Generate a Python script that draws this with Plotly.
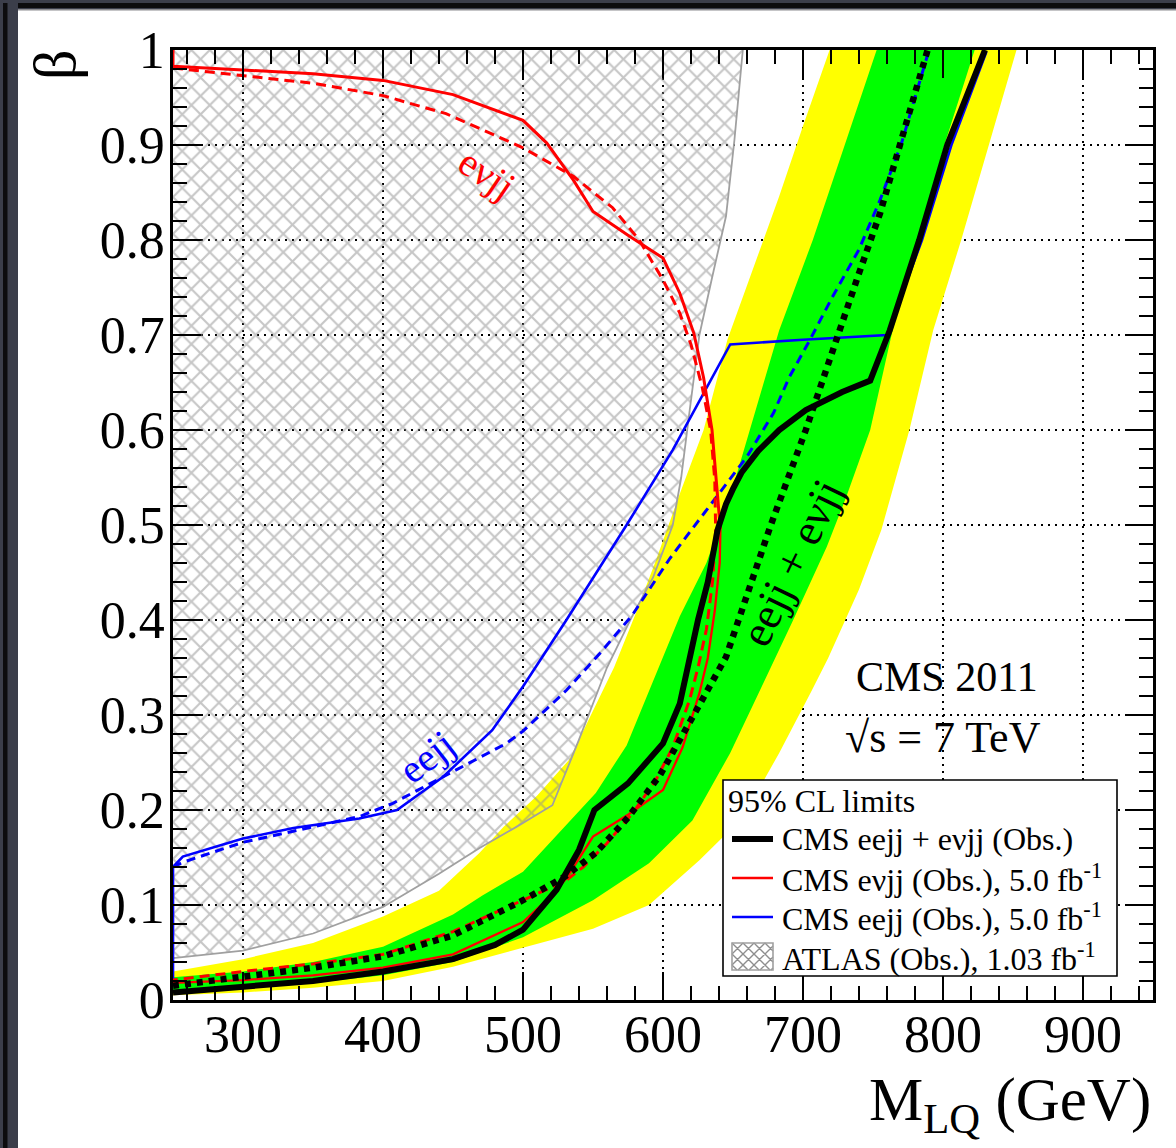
import plotly.graph_objects as go

# ---------------- data: 95% CL limits in the (M_LQ, beta) plane ----------------
# CMS eejj + evjj combined, observed
comb_obs_m = [250, 300, 350, 400, 450, 480, 500, 524, 540, 551, 575, 600, 612, 625, 632,
              639, 645, 650, 656, 668, 683, 702, 728, 748, 762, 783, 803, 830]
comb_obs_b = [0.008, 0.014, 0.020, 0.030, 0.043, 0.058, 0.074, 0.116, 0.158, 0.200, 0.228,
              0.270, 0.312, 0.400, 0.440, 0.495, 0.522, 0.538, 0.555, 0.578, 0.600, 0.621,
              0.640, 0.652, 0.705, 0.800, 0.900, 1.000]

# CMS eejj + evjj combined, expected
comb_exp_m = [250, 300, 350, 400, 450, 500, 530, 552, 575, 598, 615, 628, 645, 660, 677,
              702, 724, 740, 755, 769, 789]
comb_exp_b = [0.015, 0.024, 0.034, 0.046, 0.068, 0.105, 0.130, 0.155, 0.192, 0.237, 0.280,
              0.316, 0.361, 0.425, 0.500, 0.600, 0.698, 0.765, 0.828, 0.898, 1.000]

# expected +-1 sigma band edges (left edge, right edge)
band1_left_m = [250, 300, 350, 400, 450, 471, 500, 519, 552, 574, 590, 612, 631, 648, 662,
                683, 707, 731, 752.6]
band1_left_b = [0.024, 0.030, 0.040, 0.056, 0.090, 0.110, 0.135, 0.165, 0.218, 0.268, 0.325,
                0.404, 0.460, 0.530, 0.600, 0.705, 0.800, 0.905, 1.000]
band1_right_m = [250, 300, 350, 400, 450, 500, 550, 590, 621, 648, 667, 693, 717, 731, 748,
                 764, 782, 801, 822.6]
band1_right_b = [0.010, 0.014, 0.018, 0.026, 0.040, 0.066, 0.105, 0.144, 0.189, 0.260, 0.319,
                 0.400, 0.477, 0.530, 0.600, 0.705, 0.800, 0.900, 1.000]

# expected +-2 sigma band edges (left edge, right edge)
band2_left_m = [250, 300, 350, 400, 440, 469, 486, 510, 533, 548, 565, 580, 595, 612, 629,
                646, 667, 683, 700, 719]
band2_left_b = [0.030, 0.043, 0.060, 0.088, 0.115, 0.155, 0.182, 0.215, 0.253, 0.298, 0.350,
                0.405, 0.463, 0.533, 0.600, 0.695, 0.782, 0.846, 0.920, 1.000]
band2_right_m = [250, 300, 350, 400, 450, 500, 550, 590, 626, 657, 683, 706, 718, 740, 756,
                 776, 793, 813, 833, 852.5]
band2_right_b = [0.005, 0.008, 0.013, 0.020, 0.035, 0.055, 0.075, 0.100, 0.147, 0.192, 0.260,
                 0.325, 0.360, 0.432, 0.495, 0.600, 0.705, 0.800, 0.900, 1.000]

# CMS evjj, observed and expected
enujj_obs_m = [250, 250, 300, 350, 400, 450, 500, 517, 536, 550, 575, 600, 612, 622, 629,
               635, 639, 641, 640.5, 637, 632, 626, 614, 600, 575, 550, 531, 519, 500, 450,
               400, 350, 300, 250]
enujj_obs_b = [1.000, 0.983, 0.979, 0.975, 0.968, 0.953, 0.926, 0.902, 0.863, 0.830, 0.805,
               0.781, 0.744, 0.702, 0.655, 0.600, 0.530, 0.495, 0.460, 0.410, 0.360, 0.323,
               0.266, 0.221, 0.195, 0.172, 0.128, 0.108, 0.082, 0.048, 0.034, 0.026, 0.021,
               0.018]
enujj_exp_m = [250, 300, 350, 400, 445, 500, 536, 564, 583, 600, 612, 620, 628, 634, 637,
               637.6, 635.5, 631, 625, 619, 607, 595, 580, 560, 543, 530, 500, 450, 400, 350,
               300, 250]
enujj_exp_b = [0.981, 0.973, 0.965, 0.952, 0.933, 0.897, 0.867, 0.834, 0.800, 0.758, 0.723,
               0.690, 0.645, 0.600, 0.547, 0.495, 0.442, 0.390, 0.350, 0.316, 0.266, 0.232,
               0.200, 0.165, 0.140, 0.125, 0.105, 0.072, 0.048, 0.038, 0.030, 0.021]

# CMS eejj, observed and expected
eejj_obs_m = [250, 250, 257, 300, 336, 383, 410, 443, 478, 500, 531, 557, 574, 607, 648,
              700, 760, 785, 806, 831]
eejj_obs_b = [0.020, 0.140, 0.151, 0.170, 0.181, 0.191, 0.200, 0.235, 0.284, 0.330, 0.400,
              0.461, 0.500, 0.579, 0.690, 0.695, 0.700, 0.800, 0.900, 0.998]
eejj_exp_m = [250, 257, 300, 336, 383, 407, 443, 488, 500, 531, 555, 578, 605, 635, 660,
              679, 690, 705, 721, 740, 755, 770, 790]
eejj_exp_b = [0.140, 0.145, 0.166, 0.178, 0.193, 0.207, 0.235, 0.270, 0.283, 0.326, 0.365,
              0.405, 0.465, 0.523, 0.572, 0.618, 0.655, 0.695, 0.740, 0.790, 0.842, 0.900,
              1.000]

# ATLAS observed exclusion boundary (excluded region lies to the left / above)
atlas_m = [250, 300, 350, 400, 440, 469, 495, 521, 540, 560, 578, 593, 607, 613, 619, 626,
           635, 645, 651, 657]
atlas_b = [0.044, 0.052, 0.070, 0.098, 0.133, 0.160, 0.182, 0.205, 0.274, 0.350, 0.404,
           0.445, 0.500, 0.550, 0.620, 0.700, 0.760, 0.825, 0.905, 1.000]

x_ticks = [300, 400, 500, 600, 700, 800, 900]
y_ticks = [0, 0.1, 0.2, 0.3, 0.4, 0.5, 0.6, 0.7, 0.8, 0.9, 1]
y_tick_text = ["0", "0.1", "0.2", "0.3", "0.4", "0.5", "0.6", "0.7", "0.8", "0.9", "1"]

legend_header = "95% CL limits"
legend_labels = ["CMS eejj + e\u03bdjj (Obs.)",
                 "CMS e\u03bdjj (Obs.), 5.0 fb<sup>-1</sup>",
                 "CMS eejj (Obs.), 5.0 fb<sup>-1</sup>",
                 "ATLAS (Obs.), 1.03 fb<sup>-1</sup>"]

# ---------------- page geometry ----------------
W, H = 1176, 1148
ML, MR, MT, MB = 173, 23, 50, 148
PW = W - ML - MR
PH = H - MT - MB
FONT = "Liberation Serif"


def pxx(p):
    """page pixel column -> paper x"""
    return (p - ML) / PW


def pxy(p):
    """page pixel row -> paper y"""
    return (H - MB - p) / PH


YELLOW = "#ffff00"
GREEN = "#00ff00"
HATCH = "#8e8e8e"

fig = go.Figure()

# +-2 sigma band
fig.add_trace(go.Scatter(
    x=band2_left_m + band2_right_m[::-1], y=band2_left_b + band2_right_b[::-1],
    fill="toself", fillcolor=YELLOW, line=dict(width=0), mode="lines",
    hoverinfo="skip", showlegend=False))
# +-1 sigma band
fig.add_trace(go.Scatter(
    x=band1_left_m + band1_right_m[::-1], y=band1_left_b + band1_right_b[::-1],
    fill="toself", fillcolor=GREEN, line=dict(width=0), mode="lines",
    hoverinfo="skip", showlegend=False))

# ATLAS excluded region (cross-hatched)
fig.add_trace(go.Scatter(
    x=atlas_m + [250], y=atlas_b + [1.0],
    fill="toself", fillcolor="rgba(0,0,0,0)", mode="lines", line=dict(width=0),
    fillpattern=dict(shape="x", size=13, solidity=0.3, fgcolor=HATCH,
                     bgcolor="rgba(0,0,0,0)", fillmode="overlay"),
    hoverinfo="skip", showlegend=False))
fig.add_trace(go.Scatter(
    x=atlas_m, y=atlas_b, mode="lines", line=dict(color="#a0a0a0", width=1.8),
    hoverinfo="skip", showlegend=False))

# eejj
fig.add_trace(go.Scatter(x=eejj_exp_m, y=eejj_exp_b, mode="lines",
                         line=dict(color="#0000ff", width=3, dash="9px,6px"),
                         hoverinfo="skip", showlegend=False))
fig.add_trace(go.Scatter(x=eejj_obs_m, y=eejj_obs_b, mode="lines",
                         line=dict(color="#0000ff", width=2.6),
                         hoverinfo="skip", showlegend=False))

# evjj
fig.add_trace(go.Scatter(x=enujj_exp_m, y=enujj_exp_b, mode="lines",
                         line=dict(color="#ff0000", width=3, dash="10px,6px"),
                         hoverinfo="skip", showlegend=False))
turn = enujj_obs_m.index(max(enujj_obs_m))
fig.add_trace(go.Scatter(x=enujj_obs_m[:turn + 1], y=enujj_obs_b[:turn + 1], mode="lines",
                         line=dict(color="#ff0000", width=3),
                         hoverinfo="skip", showlegend=False))
fig.add_trace(go.Scatter(x=enujj_obs_m[turn:], y=enujj_obs_b[turn:], mode="lines",
                         line=dict(color="#ff0000", width=2.3),
                         hoverinfo="skip", showlegend=False))

# combination
fig.add_trace(go.Scatter(x=comb_exp_m, y=comb_exp_b, mode="lines",
                         line=dict(color="#000000", width=6.5, dash="6px,6px"),
                         hoverinfo="skip", showlegend=False))
fig.add_trace(go.Scatter(x=comb_obs_m, y=comb_obs_b, mode="lines",
                         line=dict(color="#000000", width=6),
                         hoverinfo="skip", showlegend=False))

axis_common = dict(
    showline=True, linecolor="black", linewidth=2.5, mirror="allticks",
    ticks="inside", ticklen=28, tickwidth=2, tickcolor="black",
    showgrid=True, gridcolor="black", gridwidth=1.6, griddash="2px,5px",
    zeroline=False, layer="above traces",
    tickfont=dict(family=FONT, size=52, color="black"),
)

fig.update_xaxes(range=[250, 950], tickvals=x_ticks, ticklabelstandoff=-13,
                 minor=dict(tick0=0, dtick=20, ticks="inside", ticklen=14, tickwidth=2,
                            tickcolor="black", showgrid=False),
                 **axis_common)
fig.update_yaxes(range=[0, 1], tickvals=y_ticks, ticktext=y_tick_text, ticklabelstandoff=-5,
                 minor=dict(tick0=0, dtick=0.02, ticks="inside", ticklen=14, tickwidth=2,
                            tickcolor="black", showgrid=False),
                 **axis_common)

shapes = []
annotations = []

# dark window frame along the top and left edge of the page
FRAME = "#3b3e4a"
shapes.append(dict(type="rect", xref="paper", yref="paper", x0=pxx(0), x1=pxx(W),
                   y0=pxy(0), y1=pxy(10), fillcolor=FRAME, line=dict(width=0), layer="above"))
shapes.append(dict(type="rect", xref="paper", yref="paper", x0=pxx(0), x1=pxx(W),
                   y0=pxy(3), y1=pxy(8), fillcolor="#0c0c0e", line=dict(width=0), layer="above"))
shapes.append(dict(type="rect", xref="paper", yref="paper", x0=pxx(0), x1=pxx(W),
                   y0=pxy(9), y1=pxy(10.5), fillcolor="#8c8c90", line=dict(width=0), layer="above"))
shapes.append(dict(type="rect", xref="paper", yref="paper", x0=pxx(0), x1=pxx(18),
                   y0=pxy(0), y1=pxy(H), fillcolor=FRAME, line=dict(width=0), layer="above"))
shapes.append(dict(type="rect", xref="paper", yref="paper", x0=pxx(3), x1=pxx(7.5),
                   y0=pxy(3), y1=pxy(H), fillcolor="#0c0c0e", line=dict(width=0), layer="above"))

# legend box
LX0, LX1, LY0, LY1 = 723, 1117, 780, 976
LEG_SIZE = 32
shapes.append(dict(type="rect", xref="paper", yref="paper", x0=pxx(LX0), x1=pxx(LX1),
                   y0=pxy(LY1), y1=pxy(LY0), fillcolor="white",
                   line=dict(color="black", width=1.6), layer="above"))
annotations.append(dict(xref="paper", yref="paper", x=pxx(726), y=pxy(801),
                        xanchor="left", yanchor="middle", showarrow=False,
                        text=legend_header, font=dict(family=FONT, size=LEG_SIZE, color="black")))
rows_y = [839, 878, 917, 957]
swatch_styles = [("black", 6), ("#ff0000", 2.5), ("#0000ff", 2.5)]
for yy, (col, wd) in zip(rows_y[:3], swatch_styles):
    shapes.append(dict(type="line", xref="paper", yref="paper", x0=pxx(732), x1=pxx(773),
                       y0=pxy(yy), y1=pxy(yy), line=dict(color=col, width=wd), layer="above"))
for yy, lab in zip(rows_y, legend_labels):
    annotations.append(dict(xref="paper", yref="paper", x=pxx(780), y=pxy(yy),
                            xanchor="left", yanchor="middle", showarrow=False,
                            text=lab, font=dict(family=FONT, size=LEG_SIZE, color="black")))

# cross-hatched swatch for the ATLAS entry
SX0, SX1, SY0, SY1 = 732, 773, 943, 970
segs = []
step = 11
for c in range(-66, 140, step):
    # rising diagonals (page rows grow downward)
    xa = max(SX0, SX0 - c); xb = min(SX1, SX0 + (SY1 - SY0 - c))
    if xb > xa:
        segs.append((xa, SY0 + c + (xa - SX0), xb, SY0 + c + (xb - SX0)))
    # falling diagonals
    xa = max(SX0, SX0 + (SY0 + c - SY1)); xb = min(SX1, SX0 + c)
    if xb > xa:
        segs.append((xa, SY0 + c - (xa - SX0), xb, SY0 + c - (xb - SX0)))
path = " ".join(f"M {pxx(a):.5f},{pxy(b):.5f} L {pxx(cx):.5f},{pxy(d):.5f}"
                for a, b, cx, d in segs)
shapes.append(dict(type="path", xref="paper", yref="paper", path=path,
                   line=dict(color=HATCH, width=1.4), layer="above"))
shapes.append(dict(type="rect", xref="paper", yref="paper", x0=pxx(SX0), x1=pxx(SX1),
                   y0=pxy(SY1), y1=pxy(SY0), line=dict(color="#a0a0a0", width=1.6),
                   fillcolor="rgba(0,0,0,0)", layer="above"))

# labels on the curves
annotations.append(dict(x=474, y=0.870, xref="x", yref="y", text="e\u03bdjj", showarrow=False,
                        textangle=34, font=dict(family=FONT, size=40, color="#ff0000")))
annotations.append(dict(x=431.6, y=0.256, xref="x", yref="y", text="eejj", showarrow=False,
                        textangle=-38, font=dict(family=FONT, size=40, color="#0000ff")))
annotations.append(dict(x=692, y=0.460, xref="x", yref="y", text="eejj + e\u03bdjj",
                        showarrow=False, textangle=-64,
                        font=dict(family=FONT, size=45, color="black")))

# experiment / energy labels
annotations.append(dict(xref="paper", yref="paper", x=pxx(947), y=pxy(677),
                        xanchor="center", yanchor="middle", showarrow=False,
                        text="CMS 2011", font=dict(family=FONT, size=42, color="black")))
annotations.append(dict(xref="paper", yref="paper", x=pxx(943), y=pxy(737),
                        xanchor="center", yanchor="middle", showarrow=False,
                        text="\u221as = 7 TeV", font=dict(family=FONT, size=44, color="black")))

# axis titles
annotations.append(dict(xref="paper", yref="paper", x=pxx(1153), y=pxy(1104),
                        xanchor="right", yanchor="middle", showarrow=False,
                        text="M<sub>LQ</sub> (GeV)", font=dict(family=FONT, size=61, color="black")))
annotations.append(dict(xref="paper", yref="paper", x=pxx(55), y=pxy(65),
                        xanchor="center", yanchor="middle", showarrow=False, textangle=-90,
                        text="\u03b2", font=dict(family=FONT, size=60, color="black")))

fig.update_layout(
    width=W, height=H,
    margin=dict(l=ML, r=MR, t=MT, b=MB, pad=0),
    paper_bgcolor="white", plot_bgcolor="white",
    showlegend=False,
    shapes=shapes, annotations=annotations,
)

fig.write_html("out.html")
